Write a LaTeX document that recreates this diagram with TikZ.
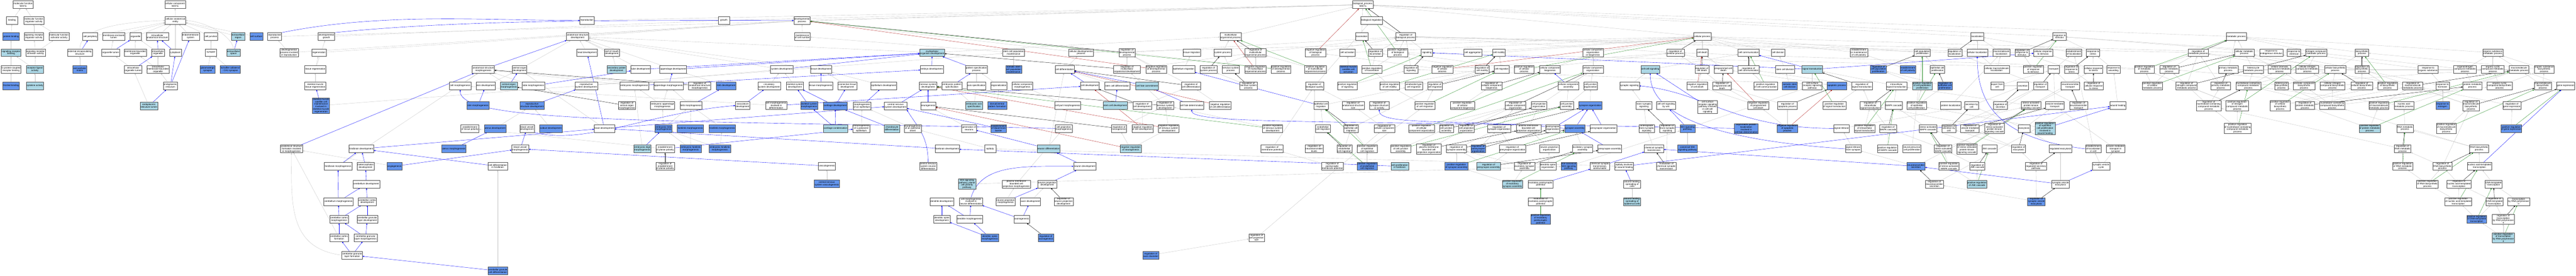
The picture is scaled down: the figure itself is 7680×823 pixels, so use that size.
\documentclass[tikz,border=0pt]{standalone}
\usepackage{fontspec}
\newfontfamily\termfont{Liberation Sans}
\usetikzlibrary{arrows.meta,shadows,backgrounds}
\definecolor{hitblue}{RGB}{100,149,237}
\definecolor{nearblue}{RGB}{173,216,230}
\definecolor{edgegray}{RGB}{196,196,196}
\definecolor{negred}{RGB}{178,34,34}
\definecolor{posgreen}{RGB}{34,139,34}
\begin{document}
\begin{tikzpicture}[x=1pt,y=-1pt,
  term/.style={draw=black!70,line width=0.7pt,fill=white,align=center,font=\termfont\fontsize{7}{7.3}\selectfont,inner xsep=1.5pt,inner ysep=1pt,minimum height=23pt,minimum width=34pt,drop shadow={shadow xshift=0.9pt,shadow yshift=-0.9pt,opacity=1,fill=black!28}},
  hit/.style={term,fill=hitblue},
  near/.style={term,fill=nearblue},
  gl/.style={draw=edgegray,line width=0.6pt,-{Triangle[length=4.5pt,width=3.8pt]}},
  bl/.style={gl,draw=blue},
  kl/.style={gl,draw=black},
  rl/.style={gl,draw=negred},
  gr/.style={gl,draw=posgreen}]
\useasboundingbox (0,0) rectangle (7680,823);

\node[term] (mfWnt) at (69,14) {molecular function\\Wnt7a};
\node[term] (binding) at (36,61) {binding};
\node[term] (mfreg) at (101,61) {molecular function\\regulator activity};
\node[hit] (protbind) at (33,109) {protein binding};
\node[term] (sigrecreg) at (101,109) {signaling receptor\\regulator activity};
\node[term] (mfact) at (176,109) {molecular function\\activator activity};
\node[near] (sigrecbind) at (33,157) {signaling receptor\\binding};
\node[term] (sigrecact) at (106,157) {signaling receptor\\activator activity};
\node[term] (gpcrbind) at (33,207) {G protein-coupled\\receptor binding};
\node[near] (recligand) at (104,207) {receptor ligand\\activity};
\node[hit] (frizzled) at (33,256) {frizzled binding};
\node[near] (cytokine) at (104,256) {cytokine activity};

\node[term] (ccWnt) at (522,14) {cellular component\\Wnt7a};
\node[term] (cae) at (523,61) {cellular anatomical\\entity};
\node[term] (cellper) at (269,109) {cell periphery};
\node[term] (membencl) at (339,109) {membrane-enclosed\\lumen};
\node[term] (organelle) at (404,109) {organelle};
\node[term] (iasstruct) at (469,109) {intracellular\\anatomical structure};
\node[term] (endomem) at (568,109) {endomembrane\\system};
\node[term] (celljunc) at (629,109) {cell junction};
\node[near] (extreg) at (710,109) {extracellular\\region};
\node[hit] (cellsurf) at (764,109) {cell surface};
\node[term] (extenc) at (238,157) {external encapsulating\\structure};
\node[term] (orglumen) at (330,157) {organelle lumen};
\node[term] (membbound) at (403,157) {membrane-bounded\\organelle};
\node[term] (intorg) at (471,157) {intracellular\\organelle};
\node[term] (cytoplasm) at (523,157) {cytoplasm};
\node[term] (synapse) at (629,157) {synapse};
\node[near] (extspace) at (696,157) {extracellular\\space};
\node[hit] (extmatrix) at (238,207) {extracellular\\matrix};
\node[term] (intorglumen) at (397,207) {intracellular\\organelle lumen};
\node[term] (intmembbound) at (471,207) {intracellular\\membrane-bounded\\organelle};
\node[hit] (glutsyn) at (619,207) {glutamatergic\\synapse};
\node[hit] (schaffer) at (686,207) {Schaffer collateral\\- CA1 synapse};
\node[term] (er) at (508,256) {endoplasmic\\reticulum};
\node[near] (erlumen) at (444,316) {endoplasmic\\reticulum lumen};

\node[term] (reproc) at (819,109) {reproductive\\process};
\node[term] (devgrowth) at (973,109) {developmental\\growth};
\node[term] (devprocrep) at (862,157) {developmental\\process involved\\in reproduction};
\node[term] (regeneration) at (951,157) {regeneration};
\node[term] (tissregen) at (940,207) {tissue regeneration};
\node[term] (skmtissregen) at (940,256) {skeletal muscle\\tissue regeneration};
\node[hit] (satellite) at (957,315) {skeletal muscle\\satellite cell\\maintenance\\involved in\\skeletal muscle\\regeneration};
\node[term] (asfmorph) at (869,444) {anatomical structure\\formation involved\\in morphogenesis};
\node[term] (hindbraindev) at (1077,444) {hindbrain development};
\node[term] (hindmorph) at (1008,496) {hindbrain morphogenesis};
\node[term] (metenceph) at (1090,496) {metencephalon\\development};
\node[hit] (angiogenesis) at (1176,496) {angiogenesis};
\node[term] (cerebdev) at (1092,549) {cerebellum development};
\node[term] (cerebmorph) at (1009,601) {cerebellum morphogenesis};
\node[term] (cerebcortdev) at (1095,601) {cerebellar cortex\\development};
\node[term] (cerebcortmorph) at (1011,654) {cerebellar cortex\\morphogenesis};
\node[term] (cgldev) at (1095,654) {cerebellar granular\\layer development};
\node[term] (cerebcortform) at (1011,709) {cerebellar cortex\\formation};
\node[term] (cglmorph) at (1090,709) {cerebellar granular\\layer morphogenesis};
\node[term] (cglform) at (1050,761) {cerebellar granular\\layer formation};

\node[term] (reproduction) at (1750,61) {reproduction};
\node[term] (growth) at (2158,61) {growth};
\node[term] (devproc) at (2391,61) {developmental\\process};
\node[term] (asdev) at (1722,109) {anatomical structure\\development};
\node[term] (maintcellnum) at (2392,109) {maintenance\\of cell number};
\node[term] (headdev) at (1750,157) {head development};
\node[term] (roofmouth) at (1824,157) {roof of mouth\\development};
\node[term] (asmorph) at (1441,207) {anatomical structure\\morphogenesis};
\node[term] (aodev) at (1549,207) {animal organ\\development};
\node[near] (secpalate) at (1838,207) {secondary palate\\development};
\node[term] (tubedev) at (1910,207) {tube development};
\node[term] (appdev) at (2007,207) {appendage development};
\node[term] (sysdev) at (2331,207) {system development};
\node[term] (tissdev) at (2448,207) {tissue development};
\node[term] (cellmorph) at (1372,256) {cell morphogenesis};
\node[term] (skindev) at (1448,256) {skin development};
\node[near] (aomorph) at (1517,256) {animal organ\\morphogenesis};
\node[term] (tubemorph) at (1590,256) {tube morphogenesis};
\node[term] (reprsysdev) at (1748,256) {reproductive\\system development};
\node[term] (embmorph) at (1891,256) {embryonic morphogenesis};
\node[term] (appmorph) at (1993,256) {appendage morphogenesis};
\node[term] (regasmorph) at (2086,256) {regulation of\\anatomical structure\\morphogenesis};
\node[hit] (limbdev) at (2165,256) {limb development};
\node[term] (circsysdev) at (2293,256) {circulatory\\system development};
\node[term] (skelsysdev) at (2370,256) {skeletal system\\development};
\node[term] (tissmorph) at (2447,256) {tissue morphogenesis};
\node[term] (conntissdev) at (2526,256) {connective tissue\\development};
\node[hit] (skinmorph) at (1425,315) {skin morphogenesis};
\node[hit] (reprstructdev) at (1586,315) {reproductive\\structure development};
\node[term] (regaomorph) at (1869,315) {regulation of\\animal organ\\morphogenesis};
\node[term] (embappmorph) at (1975,315) {embryonic appendage\\morphogenesis};
\node[term] (limbmorph) at (2060,315) {limb morphogenesis};
\node[term] (vascdev) at (2214,315) {vasculature\\development};
\node[term] (cellmorphdiff) at (2314,315) {cell morphogenesis\\involved in\\differentiation};
\node[hit] (skelsysmorph) at (2412,315) {skeletal system\\morphogenesis};
\node[hit] (cartdev) at (2490,316) {cartilage development};
\node[term] (estissuepol) at (1401,383) {establishment\\of tissue polarity};
\node[hit] (uterusdev) at (1476,383) {uterus development};
\node[term] (bvdev) at (1571,383) {blood vessel\\development};
\node[hit] (oviductdev) at (1642,383) {oviduct development};
\node[term] (braindev) at (1802,383) {brain development};
\node[hit] (emblimbmorph) at (1978,383) {embryonic limb\\morphogenesis};
\node[hit] (forelimbmorph) at (2058,383) {forelimb morphogenesis};
\node[hit] (hindlimbmorph) at (2153,383) {hindlimb morphogenesis};
\node[near] (cartcond) at (2491,383) {cartilage condensation};
\node[hit] (uterusmorph) at (1353,444) {uterus morphogenesis};
\node[term] (bvmorph) at (1551,444) {blood vessel\\morphogenesis};
\node[near] (embdigitmorph) at (1915,444) {embryonic digit\\morphogenesis};
\node[term] (estplanarpol) at (1983,444) {establishment\\of planar polarity};
\node[hit] (embforelimb) at (2059,444) {embryonic forelimb\\morphogenesis};
\node[hit] (embhindlimb) at (2146,444) {embryonic hindlimb\\morphogenesis};
\node[term] (celldiffhind) at (1484,496) {cell differentiation\\in hindbrain};
\node[term] (regestplanar) at (1983,496) {regulation of\\establishment\\of planar polarity};
\node[term] (vasculogenesis) at (2465,495) {vasculogenesis};
\node[hit] (cnsvasc) at (2465,548) {central nervous\\system vasculogenesis};
\node[hit] (cgcelldiff) at (1484,808) {cerebellar granule\\cell differentiation};

\node[near] (mcodev) at (2779,157) {multicellular\\organism development};
\node[term] (stemcellpopmaint) at (3022,157) {stem cell population\\maintenance};
\node[term] (celldevproc) at (3223,157) {cellular developmental\\process};
\node[term] (regdevproc) at (3360,157) {regulation of\\developmental\\process};
\node[term] (tissmig) at (3553,157) {tissue migration};
\node[term] (sysproc) at (3645,157) {system process};
\node[term] (regmcop) at (3743,157) {regulation of\\multicellular\\organismal process};
\node[term] (mcop) at (3669,109) {multicellular\\organismal process};
\node[term] (negregbp) at (3922,157) {negative regulation\\of biological\\process};
\node[term] (cellactiv) at (4017,157) {cell activation};
\node[term] (embryodev) at (2778,207) {embryo development};
\node[term] (patspec) at (2911,207) {pattern specification\\process};
\node[hit] (somstem) at (3022,207) {somatic stem\\cell population\\maintenance};
\node[term] (celldiff) at (3174,207) {cell differentiation};
\node[term] (regmcodev) at (3360,207) {regulation of\\multicellular\\organismal development};
\node[term] (negregdevproc) at (3447,207) {negative regulation\\of developmental\\process};
\node[term] (epimig) at (3529,207) {epithelium migration};
\node[term] (regsysproc) at (3603,207) {regulation of\\system process};
\node[term] (nsproc) at (3669,207) {nervous system\\process};
\node[term] (negregmcop) at (3743,207) {negative regulation\\of multicellular\\organismal process};
\node[term] (posregdevproc) at (3819,207) {positive regulation\\of developmental\\process};
\node[term] (posregmcop) at (3922,207) {positive regulation\\of multicellular\\organismal process};
\node[hit] (skmsatact) at (4020,207) {skeletal muscle\\satellite cell\\activation};
\node[term] (epidev) at (2635,256) {epithelium development};
\node[term] (nsdev) at (2767,256) {nervous system\\development};
\node[term] (embpatspec) at (2838,256) {embryonic pattern\\specification};
\node[term] (axisspec) at (2911,256) {axis specification};
\node[term] (regionaliz) at (2978,256) {regionalization};
\node[term] (ccmorph) at (3048,256) {cellular component\\morphogenesis};
\node[term] (celldev) at (3249,256) {cell development};
\node[term] (stemcelldiff) at (3331,256) {stem cell differentiation};
\node[near] (cellfatecommit) at (3420,256) {cell fate commitment};
\node[term] (regcelldiff) at (3551,256) {regulation of\\cell differentiation};
\node[term] (regnsproc) at (3722,256) {regulation of\\nervous system\\process};
\node[term] (regbioqual) at (3919,256) {regulation of\\biological quality};
\node[term] (posregsig) at (4017,256) {positive regulation\\of signaling};
\node[term] (morphepi) at (2570,316) {morphogenesis\\of an epithelium};
\node[term] (cnsdev) at (2670,316) {central nervous\\system development};
\node[term] (neurogenesis) at (2767,316) {neurogenesis};
\node[near] (embaxisspec) at (2904,315) {embryonic axis\\specification};
\node[hit] (dvpattern) at (2973,315) {dorsal/ventral\\pattern formation};
\node[term] (cellpartmorph) at (3183,315) {cell part morphogenesis};
\node[near] (stemcelldev) at (3325,315) {stem cell development};
\node[term] (regcelldev) at (3405,315) {regulation of\\cell development};
\node[term] (regnsdev) at (3474,315) {regulation of\\nervous system\\development};
\node[term] (cellfatedet) at (3553,315) {cell fate determination};
\node[term] (negregcelldiff) at (3638,315) {negative regulation\\of cell differentiation};
\node[term] (epicellmig) at (3938,315) {epithelial cell\\migration};
\node[term] (regasize) at (4034,315) {regulation of\\anatomical structure\\size};
\node[term] (regsynstruct) at (4112,315) {regulation of\\synapse structure\\or activity};
\node[term] (morphpolepi) at (2568,383) {morphogenesis\\of a polarized\\epithelium};
\node[near] (chondrodiff) at (2659,383) {chondrocyte\\differentiation};
\node[term] (morphepisheet) at (2721,383) {morphogenesis\\of an epithelial\\sheet};
\node[term] (genneurons) at (2889,383) {generation of\\neurons};
\node[hit] (estbbb) at (2977,383) {establishment\\of blood-brain\\barrier};
\node[term] (cellprojmorph) at (3171,383) {cell projection\\morphogenesis};
\node[term] (regneurogen) at (3336,383) {regulation of\\neurogenesis};
\node[term] (negregcelldev) at (3406,383) {negative regulation\\of cell development};
\node[term] (negregnsdev) at (3484,383) {negative regulation\\of nervous system\\development};
\node[term] (posregnsdev) at (3794,383) {positive regulation\\of nervous system\\development};
\node[term] (endocellmig) at (3944,383) {endothelial\\cell migration};
\node[term] (regepicellmig) at (4028,383) {regulation of\\epithelial cell\\migration};
\node[term] (regccsize) at (4127,383) {regulation of\\cellular component\\size};
\node[term] (forebraindev) at (2824,444) {forebrain development};
\node[term] (epiboly) at (2952,444) {epiboly};
\node[near] (neurondiff) at (3126,444) {neuron differentiation};
\node[near] (negregneurogen) at (3371,444) {negative regulation\\of neurogenesis};
\node[term] (regmempot) at (3792,444) {regulation of\\membrane potential};
\node[term] (regntlevels) at (3918,444) {regulation of\\neurotransmitter\\levels};
\node[term] (regendocellmig) at (4008,444) {regulation of\\endothelial\\cell migration};
\node[term] (posregepicellmig) at (4076,444) {positive regulation\\of epithelial\\cell migration};
\node[term] (cnsneurondiff) at (2767,496) {central nervous\\system neuron\\differentiation};
\node[term] (neurondev) at (3234,496) {neuron development};
\node[term] (regpsmp) at (3972,496) {regulation of\\postsynaptic\\membrane potential};
\node[hit] (posregendocellmig) at (4076,496) {positive regulation\\of endothelial\\cell migration};
\node[near] (cellprolifforebrain) at (4173,496) {cell proliferation\\in forebrain};
\node[near] (wntpcp) at (2883,549) {Wnt signaling\\pathway, planar\\cell polarity\\pathway};
\node[term] (pmbcellprojmorph) at (3030,549) {plasma membrane\\bounded cell\\projection morphogenesis};
\node[term] (neuronprojdev) at (3122,549) {neuron projection\\development};
\node[term] (dendritedev) at (2808,601) {dendrite development};
\node[term] (cellmorphneurondiff) at (2895,601) {cell morphogenesis\\involved in\\neuron differentiation};
\node[term] (neuronprojmorph) at (2998,601) {neuron projection\\morphogenesis};
\node[term] (axondev) at (3072,601) {axon development};
\node[term] (regneuronprojdev) at (3171,601) {regulation of\\neuron projection\\development};
\node[term] (dendspinedev) at (2808,654) {dendritic spine\\development};
\node[term] (dendmorph) at (2891,654) {dendrite morphogenesis};
\node[term] (axonogenesis) at (3046,654) {axonogenesis};
\node[hit] (dendspinemorph) at (2951,709) {dendritic spine\\morphogenesis};
\node[hit] (regaxonogen) at (3118,709) {regulation of\\axonogenesis};
\node[term] (regcellprojsize) at (3746,709) {regulation of\\cell projection\\size};
\node[hit] (regaxondiam) at (3431,761) {regulation of\\axon diameter};

\node[term] (bpWnt) at (4063,14) {biological\_process\\Wnt7a};
\node[term] (bioreg) at (4089,61) {biological regulation};
\node[term] (locomotion) at (4060,109) {locomotion};
\node[term] (regbp) at (4191,109) {regulation of\\biological process};
\node[term] (cellproc) at (5075,109) {cellular process};
\node[term] (reglocomotion) at (4101,157) {regulation of\\locomotion};
\node[term] (posregbp) at (4167,157) {positive regulation\\of biological\\process};
\node[term] (signaling) at (4254,157) {signaling};
\node[term] (cellagg) at (4391,157) {cell aggregation};
\node[term] (cellmotility) at (4469,157) {cell motility};
\node[term] (ccorgbio) at (4749,157) {cellular component\\organization\\or biogenesis};
\node[term] (regcellproc) at (4995,157) {regulation of\\cellular process};
\node[term] (celldeath) at (5075,157) {cell death};
\node[term] (cellcomm) at (5213,157) {cell communication};
\node[term] (celldivision) at (5301,157) {cell division};
\node[term] (posreglocomotion) at (4090,207) {positive regulation\\of locomotion};
\node[term] (regsignaling) at (4207,207) {regulation of\\signaling};
\node[term] (negregcellproc) at (4300,207) {negative regulation\\of cellular\\process};
\node[term] (regcellmotility) at (4419,207) {regulation of\\cell motility};
\node[term] (cellmig) at (4477,207) {cell migration};
\node[term] (posregcellproc) at (4544,207) {positive regulation\\of cellular\\process};
\node[term] (ccbiogenesis) at (4621,207) {cellular component\\biogenesis};
\node[term] (ccorg) at (4749,207) {cellular component\\organization};
\node[near] (cellcellsig) at (4920,207) {cell-cell signaling};
\node[term] (regcelldeath) at (5074,207) {regulation of\\cell death};
\node[term] (pcd) at (5138,207) {programmed cell\\death};
\node[term] (regcellcomm) at (5213,207) {regulation of\\cell communication};
\node[term] (stemcelldiv) at (5322,207) {stem cell division};
\node[term] (posregcellmotility) at (4143,256) {positive regulation\\of cell motility};
\node[term] (amoeboid) at (4215,256) {ameboidal-type\\cell migration};
\node[term] (regcellmig) at (4278,256) {regulation of\\cell migration};
\node[term] (regccbiogen) at (4447,256) {regulation of\\cellular component\\biogenesis};
\node[term] (ccassembly) at (4676,256) {cellular component\\assembly};
\node[term] (celljuncorg) at (4742,256) {cell junction\\organization};
\node[term] (synsignaling) at (4858,256) {synaptic signaling};
\node[term] (negregcelldeath) at (5060,256) {negative regulation\\of cell death};
\node[term] (regpcd) at (5134,256) {regulation of\\programmed cell\\death};
\node[term] (posregcellcomm) at (5264,256) {positive regulation\\of cell communication};
\node[hit] (somstemdiv) at (5336,256) {somatic stem\\cell division};
\node[term] (posregcellmig) at (4248,315) {positive regulation\\of cell migration};
\node[term] (posregccbiogen) at (4360,315) {positive regulation\\of cellular\\component biogenesis};
\node[term] (regccorg) at (4518,315) {regulation of\\cellular component\\organization};
\node[term] (cellprojorg) at (4588,315) {cell projection\\organization};
\node[term] (celljuncassembly) at (4671,315) {cell junction\\assembly};
\node[hit] (synorg) at (4741,315) {synapse organization};
\node[term] (transsynsig) at (4901,315) {trans-synaptic\\signaling};
\node[term] (ccsigwnt) at (4967,315) {cell-cell signaling\\by wnt};
\node[term] (csrspcc) at (5091,319) {cell surface\\receptor signaling\\pathway involved\\in cell-cell\\signaling};
\node[term] (negregpcd) at (5242,315) {negative regulation\\of programmed\\cell death};
\node[term] (posregccorg) at (4238,383) {positive regulation\\of cellular\\component organization};
\node[term] (regcelljuncassembly) at (4312,383) {regulation of\\cell junction\\assembly};
\node[term] (regcellprojorg) at (4372,383) {regulation of\\cell projection\\organization};
\node[term] (regsynorg) at (4469,383) {regulation of\\synapse organization};
\node[term] (pmbcellprojorg) at (4557,383) {plasma membrane\\bounded cell\\projection organization};
\node[term] (postsynorg) at (4629,383) {postsynapse\\organization};
\node[hit] (synassembly) at (4695,383) {synapse assembly};
\node[term] (presynorg) at (4780,383) {presynapse organization};
\node[term] (anterograde) at (4909,383) {anterograde\\trans-synaptic\\signaling};
\node[term] (regtranssyn) at (4971,383) {regulation of\\trans-synaptic\\signaling};
\node[hit] (wntsig) at (5031,383) {Wnt signaling\\pathway};
\node[hit] (asymprot) at (5206,383) {asymmetric protein\\localization\\involved in\\cell fate determination};
\node[term] (posregcelljuncassembly) at (4176,444) {positive regulation\\of cell junction\\assembly};
\node[term] (regpmbcellprojorg) at (4260,444) {regulation of\\plasma membrane\\bounded cell\\projection organization};
\node[term] (regsynassembly) at (4342,444) {regulation of\\synapse assembly};
\node[hit] (regpostsynorg) at (4407,444) {regulation of\\postsynapse\\organization};
\node[term] (regpresynorg) at (4509,444) {regulation of\\presynapse organization};
\node[term] (neuronprojorg) at (4619,444) {neuron projection\\organization};
\node[term] (excsynassembly) at (4718,444) {excitatory synapse\\assembly};
\node[term] (presynassembly) at (4799,444) {presynapse assembly};
\node[term] (chemsyntrans) at (4931,444) {chemical synaptic\\transmission};
\node[hit] (canonwnt) at (5031,444) {canonical Wnt\\signaling pathway};
\node[hit] (posregsynassembly) at (4342,496) {positive regulation\\of synapse assembly};
\node[near] (regpresynassembly) at (4438,496) {regulation of\\presynapse assembly};
\node[term] (regexcsynassembly) at (4545,496) {regulation of\\excitatory synapse\\assembly};
\node[term] (dendspineorg) at (4615,496) {dendritic spine\\organization};
\node[hit] (noncanonwnt) at (4677,496) {non-canonical\\Wnt signaling\\pathway};
\node[term] (chemsyntranspost) at (4770,496) {chemical synaptic\\transmission,\\postsynaptic};
\node[term] (epibolywound) at (4842,496) {epiboly involved\\in wound healing};
\node[term] (modchemsyn) at (4968,496) {modulation of\\chemical synaptic\\transmission};
\node[near] (posregexcsynassembly) at (4509,549) {positive regulation\\of excitatory\\synapse assembly};
\node[term] (excpsp) at (4593,549) {excitatory postsynaptic\\potential};
\node[term] (woundspreadcells) at (4866,549) {wound healing,\\spreading of\\cells};
\node[term] (modexcpsp) at (4593,601) {modulation of\\excitatory postsynaptic\\potential};
\node[near] (woundspreadepi) at (4866,601) {wound healing,\\spreading of\\epidermal cells};
\node[hit] (posregexcpsp) at (4593,654) {positive regulation\\of excitatory\\postsynaptic\\potential};

\node[term] (localization) at (5895,109) {localization};
\node[term] (respstim) at (6140,109) {response to\\stimulus};
\node[term] (estmaintpol) at (5542,157) {establishment\\or maintenance\\of cell polarity};
\node[term] (cellpopprolif) at (5731,157) {cell population\\proliferation};
\node[term] (reglocaliz) at (5828,157) {regulation of\\localization};
\node[term] (cellularlocaliz) at (5895,157) {cellular localization};
\node[term] (macromollocaliz) at (5967,157) {macromolecule\\localization};
\node[term] (regrespstim) at (6028,157) {regulation of\\response to\\stimulus};
\node[term] (cellresstim) at (6091,157) {cellular response\\to stimulus};
\node[term] (estlocaliz) at (6183,157) {establishment\\of localization};
\node[term] (respstress) at (6240,157) {response to\\stress};
\node[near] (sigtrans) at (5403,207) {signal transduction};
\node[hit] (regcellpopprolif) at (5600,207) {regulation of\\cell population\\proliferation};
\node[hit] (estcellpol) at (5688,207) {establishment\\of cell polarity};
\node[term] (epicellprolif) at (5776,207) {epithelial cell\\proliferation};
\node[term] (cellmacromollocaliz) at (5953,207) {cellular macromolecule\\localization};
\node[term] (posregrespstim) at (6062,207) {positive regulation\\of response\\to stimulus};
\node[term] (transport) at (6123,207) {transport};
\node[term] (regrespstress) at (6176,207) {regulation of\\response to\\stress};
\node[term] (cellrespstress) at (6241,207) {cellular response\\to stress};
\node[term] (respwounding) at (6301,207) {response to\\wounding};
\node[term] (csrsp) at (5403,256) {cell surface\\receptor signaling\\pathway};
\node[hit] (apoptotic) at (5476,256) {apoptotic process};
\node[term] (regsigtrans) at (5551,256) {regulation of\\signal transduction};
\node[term] (intrasigtrans) at (5654,256) {intracellular\\signal transduction};
\node[near] (posregcellpopprolif) at (5731,256) {positive regulation\\of cell population\\proliferation};
\node[hit] (regepicellprolif) at (5798,256) {regulation of\\epithelial cell\\proliferation};
\node[term] (exportcell) at (5954,256) {export from\\cell};
\node[term] (secretion) at (6031,256) {secretion};
\node[term] (regtransport) at (6083,256) {regulation of\\transport};
\node[term] (nttransport) at (6172,256) {neurotransmitter\\transport};
\node[term] (regcellrespstress) at (6242,256) {regulation of\\cellular response\\to stress};
\node[term] (regapoptotic) at (5329,315) {regulation of\\apoptotic process};
\node[term] (posregsigtrans) at (5469,315) {positive regulation\\of signal transduction};
\node[term] (regintrasigtrans) at (5576,315) {regulation of\\intracellular\\signal transduction};
\node[term] (mapk) at (5646,315) {MAPK cascade};
\node[term] (posregepicellprolif) at (5714,315) {positive regulation\\of epithelial\\cell proliferation};
\node[term] (protlocaliz) at (5816,315) {protein localization};
\node[term] (secbycell) at (5878,315) {secretion by\\cell};
\node[term] (regsecretion) at (5964,315) {regulation of\\secretion};
\node[term] (sapk) at (6055,315) {stress-activated\\protein kinase\\signaling cascade};
\node[term] (vesmedtrans) at (6126,315) {vesicle-mediated\\transport};
\node[term] (regnttransport) at (6197,315) {regulation of\\neurotransmitter\\transport};
\node[term] (woundhealing) at (6314,315) {wound healing};
\node[hit] (negregapoptotic) at (5329,383) {negative regulation\\of apoptotic\\process};
\node[term] (sigrelease) at (5490,383) {signal release};
\node[term] (posregintrasig) at (5559,383) {positive regulation\\of intracellular\\signal transduction};
\node[term] (regmapk) at (5629,383) {regulation of\\MAPK cascade};
\node[term] (samapk) at (5748,383) {stress-activated\\MAPK cascade};
\node[term] (regsecbycell) at (5810,383) {regulation of\\secretion by\\cell};
\node[term] (regvesmedtrans) at (5873,383) {regulation of\\vesicle-mediated\\transport};
\node[term] (regsapk) at (5946,383) {regulation of\\stress-activated\\protein kinase\\signaling cascade};
\node[term] (exocytosis) at (6034,383) {exocytosis};
\node[near] (posregepiwound) at (6097,383) {positive regulation\\of epithelial\\cell proliferation\\involved in\\wound healing};
\node[term] (sigrelsyn) at (5525,444) {signal release\\from synapse};
\node[term] (posregmapk) at (5627,444) {positive regulation\\of MAPK cascade};
\node[term] (neuralprecprolif) at (5700,444) {neural precursor\\cell proliferation};
\node[term] (regsamapk) at (5793,444) {regulation of\\stress-activated\\MAPK cascade};
\node[term] (posregsapk) at (5864,444) {positive regulation\\of stress-activated\\protein kinase\\signaling cascade};
\node[term] (jnk) at (5931,444) {JNK cascade};
\node[term] (regexocytosis) at (6018,444) {regulation of\\exocytosis};
\node[term] (regulatedexo) at (6143,444) {regulated exocytosis};
\node[term] (estlocalizcell) at (6241,444) {establishment\\of localization\\in cell};
\node[term] (vesmedtranssyn) at (6307,444) {vesicle-mediated\\transport in\\synapse};
\node[hit] (ntsecretion) at (5712,496) {neurotransmitter\\secretion};
\node[term] (posregsamapk) at (5810,496) {positive regulation\\of stress-activated\\MAPK cascade};
\node[term] (regjnk) at (5895,496) {regulation of\\JNK cascade};
\node[term] (regregsecpath) at (6070,496) {regulation of\\regulated secretory\\pathway};
\node[term] (synvescycle) at (6264,496) {synaptic vesicle\\cycle};
\node[term] (regntsecretion) at (5767,549) {regulation of\\neurotransmitter\\secretion};
\node[near] (posregjnk) at (5894,549) {positive regulation\\of JNK cascade};
\node[term] (synvesexo) at (6143,549) {synaptic vesicle\\exocytosis};
\node[hit] (regsynvesexo) at (6071,601) {regulation of\\synaptic vesicle\\exocytosis};

\node[term] (metabproc) at (6667,109) {metabolic process};
\node[term] (regmetab) at (6554,157) {regulation of\\metabolic process};
\node[term] (cellmetab) at (6691,157) {cellular metabolic\\process};
\node[term] (respendo) at (6771,157) {response to\\endogenous stimulus};
\node[term] (respchem) at (6839,157) {response to\\chemical};
\node[term] (ncmetab) at (6905,157) {nitrogen compound\\metabolic process};
\node[term] (biosynth) at (7042,157) {biosynthetic\\process};
\node[term] (orgsubmetab) at (7432,157) {organic substance\\metabolic process};
\node[term] (posregmetab) at (6393,207) {positive regulation\\of metabolic\\process};
\node[term] (regcellmetab) at (6467,207) {regulation of\\cellular metabolic\\process};
\node[term] (primmetab) at (6643,207) {primary metabolic\\process};
\node[term] (hetcycmetab) at (6718,207) {heterocycle\\metabolic process};
\node[term] (cellaromatic) at (6796,207) {cellular aromatic\\compound metabolic\\process};
\node[term] (cellncmetab) at (6879,207) {cellular nitrogen\\compound metabolic\\process};
\node[term] (cellbiosynth) at (6962,207) {cellular biosynthetic\\process};
\node[term] (regbiosynth) at (7042,207) {regulation of\\biosynthetic\\process};
\node[term] (resporgsub) at (7239,207) {response to\\organic substance};
\node[term] (organonitrogen) at (7349,207) {organonitrogen\\compound metabolic\\process};
\node[term] (orgcyclic) at (7432,207) {organic cyclic\\compound metabolic\\process};
\node[term] (macromolmetab) at (7510,207) {macromolecule\\metabolic process};
\node[term] (orgsubbiosynth) at (7585,207) {organic substance\\biosynthetic\\process};
\node[term] (posregcellmetab) at (6417,256) {positive regulation\\of cellular\\metabolic process};
\node[term] (regncmetab) at (6519,256) {regulation of\\nitrogen compound\\metabolic process};
\node[term] (regprimmetab) at (6621,256) {regulation of\\primary metabolic\\process};
\node[term] (nbcmetab) at (6703,256) {nucleobase-containing\\compound metabolic\\process};
\node[term] (hetcycbiosynth) at (6802,256) {heterocycle\\biosynthetic\\process};
\node[term] (aromaticbiosynth) at (6869,256) {aromatic compound\\biosynthetic\\process};
\node[term] (cellncbiosynth) at (6954,256) {cellular nitrogen\\compound biosynthetic\\process};
\node[term] (regcellbiosynth) at (7041,256) {regulation of\\cellular biosynthetic\\process};
\node[term] (posregbiosynth) at (7118,256) {positive regulation\\of biosynthetic\\process};
\node[term] (regmacromolmetab) at (7193,256) {regulation of\\macromolecule\\metabolic process};
\node[term] (resphormone) at (7282,256) {response to\\hormone};
\node[term] (protmetab) at (7371,256) {protein metabolic\\process};
\node[term] (orgcycbiosynth) at (7452,256) {organic cyclic\\compound biosynthetic\\process};
\node[term] (macromolbiosynth) at (7581,256) {macromolecule\\biosynthetic\\process};
\node[term] (geneexpr) at (7649,256) {gene expression};
\node[term] (regnbcmetab) at (6585,315) {regulation of\\nucleobase-containing\\compound metabolic\\process};
\node[term] (posregncmetab) at (6670,315) {positive regulation\\of nitrogen\\compound metabolic\\process};
\node[term] (posregcellbiosynth) at (6798,315) {positive regulation\\of cellular\\biosynthetic\\process};
\node[term] (regprotmetab) at (6872,315) {regulation of\\protein metabolic\\process};
\node[term] (nbcbiosynth) at (6953,315) {nucleobase-containing\\compound biosynthetic\\process};
\node[term] (posregmacromolmetab) at (7092,315) {positive regulation\\of macromolecule\\metabolic process};
\node[term] (nucacidmetab) at (7167,315) {nucleic acid\\metabolic process};
\node[hit] (respestrogen) at (7282,315) {response to\\estrogen};
\node[term] (regmacromolbiosynth) at (7367,315) {regulation of\\macromolecule\\biosynthetic\\process};
\node[term] (reggeneexpr) at (7489,315) {regulation of\\gene expression};
\node[term] (posregnbcmetab) at (6671,383) {positive regulation\\of nucleobase-containing\\compound metabolic\\process};
\node[near] (posregprotmetab) at (7065,383) {positive regulation\\of protein metabolic\\process};
\node[term] (rnametab) at (7170,383) {RNA metabolic\\process};
\node[term] (posregmacromolbiosynth) at (7293,383) {positive regulation\\of macromolecule\\biosynthetic\\process};
\node[hit] (posreggeneexpr) at (7487,383) {positive regulation\\of gene expression};
\node[term] (regrnametab) at (7163,444) {regulation of\\RNA metabolic\\process};
\node[term] (rnabiosynth) at (7391,444) {RNA biosynthetic\\process};
\node[term] (posregrnametab) at (7163,496) {positive regulation\\of RNA metabolic\\process};
\node[term] (regrnabiosynth) at (7282,496) {regulation of\\RNA biosynthetic\\process};
\node[term] (nucacidtrans) at (7392,496) {nucleic acid-templated\\transcription};
\node[term] (posregrnabiosynth) at (7237,549) {positive regulation\\of RNA biosynthetic\\process};
\node[term] (regnucacidtrans) at (7331,549) {regulation of\\nucleic acid-templated\\transcription};
\node[term] (dnatrans) at (7434,549) {DNA-templated\\transcription};
\node[term] (posregnucacidtrans) at (7329,601) {positive regulation\\of nucleic acid-templated\\transcription};
\node[term] (regdnatrans) at (7437,601) {regulation of\\DNA-templated\\transcription};
\node[term] (transpol2) at (7509,601) {transcription\\by RNA polymerase\\II};
\node[hit] (posregdnatrans) at (7384,654) {positive regulation\\of DNA-templated\\transcription};
\node[term] (regtranspol2) at (7463,654) {regulation of\\transcription\\by RNA polymerase\\II};
\node[near] (posregtranspol2) at (7463,709) {positive regulation\\of transcription\\by RNA polymerase\\II};

\begin{scope}[on background layer]
\draw[gl] (binding) -- (mfWnt);
\draw[gl] (mfreg) -- (mfWnt);
\draw[gl] (protbind) -- (binding);
\draw[gl] (sigrecreg) -- (mfreg);
\draw[gl] (mfact) -- (mfreg);
\draw[gl] (sigrecbind) -- (protbind);
\draw[gl] (sigrecact) -- (sigrecreg);
\draw[gl] (sigrecact) -- (mfact);
\draw[gl] (gpcrbind) -- (sigrecbind);
\draw[gl] (recligand) -- (sigrecbind);
\draw[gl] (recligand) -- (sigrecact);
\draw[gl] (frizzled) -- (gpcrbind);
\draw[gl] (cytokine) -- (recligand);
\draw[gl] (cae) -- (ccWnt);
\draw[gl] (cellper) -- (cae);
\draw[gl] (membencl) -- (cae);
\draw[gl] (organelle) -- (cae);
\draw[gl] (iasstruct) -- (cae);
\draw[gl] (endomem) -- (cae);
\draw[gl] (celljunc) -- (cae);
\draw[gl] (extreg) -- (cae);
\draw[gl] (cellsurf) -- (cae);
\draw[gl] (extenc.north) .. controls +(0,-55) and +(-150,5) .. (cae.west);
\draw[gl] (cytoplasm) -- (cae);
\draw[gl] (extspace.north) .. controls +(-5,-40) and +(60,5) .. (cae.east);
\draw[gl] (membbound) -- (organelle);
\draw[gl] (intorg) -- (organelle);
\draw[gl] (orglumen) -- (membencl);
\draw[gl] (intorglumen) -- (orglumen);
\draw[gl] (intmembbound) -- (membbound);
\draw[gl] (intmembbound) -- (intorg);
\draw[gl] (synapse) -- (celljunc);
\draw[gl] (glutsyn) -- (synapse);
\draw[gl] (schaffer) -- (synapse);
\draw[gl] (extmatrix) -- (extenc);
\draw[gl] (er) -- (intmembbound);
\draw[gl] (erlumen) -- (intorglumen);
\draw[gl] (reproc) -- (bpWnt);
\draw[gl] (reproduction) -- (bpWnt);
\draw[gl] (growth) -- (bpWnt);
\draw[gl] (devproc) -- (bpWnt);
\draw[gl] (mcop) -- (bpWnt);
\draw[gl] (locomotion) -- (bpWnt);
\draw[gl] (bioreg) -- (bpWnt);
\draw[gl] (cellproc) -- (bpWnt);
\draw[gl] (localization) -- (bpWnt);
\draw[gl] (respstim) -- (bpWnt);
\draw[gl] (metabproc) -- (bpWnt);
\draw[gl] (signaling) -- (bpWnt);
\draw[gl] (cellagg) -- (cellproc);
\draw[gl] (cellmotility) -- (cellproc);
\draw[gl] (devprocrep) -- (reproc);
\draw[gl] (devprocrep) -- (devproc);
\draw[gl] (regeneration) -- (devproc);
\draw[gl] (tissregen) -- (regeneration);
\draw[gl] (tissregen) -- (devgrowth);
\draw[gl] (devgrowth) -- (growth);
\draw[gl] (skmtissregen) -- (tissregen);
\draw[gl] (angiogenesis) -- (asfmorph);
\draw[gl] (satellite) -- (stemcellpopmaint);
\draw[gl] (cglform.west) .. controls +(-160,-20) and +(0,150) .. (asfmorph.south);
\draw[gl] (cerebcortform) -- (asfmorph);
\draw[gl] (hindmorph) -- (asmorph);
\draw[gl] (cgcelldiff) -- (celldiffhind);
\draw[gl] (asdev) -- (devproc);
\draw[gl] (maintcellnum) -- (devproc);
\draw[gl] (headdev) -- (asdev);
\draw[gl] (roofmouth) -- (asdev);
\draw[gl] (aodev) -- (asdev);
\draw[gl] (tubedev) -- (asdev);
\draw[gl] (appdev) -- (asdev);
\draw[gl] (sysdev) -- (asdev);
\draw[gl] (tissdev) -- (asdev);
\draw[gl] (mcodev) -- (asdev);
\draw[gl] (secpalate) -- (roofmouth);
\draw[gl] (cellmorph) -- (asmorph);
\draw[gl] (skindev) -- (aodev);
\draw[gl] (aomorph) -- (asmorph);
\draw[gl] (tubemorph) -- (asmorph);
\draw[gl] (embmorph) -- (asmorph);
\draw[gl] (appmorph) -- (asmorph);
\draw[gl] (reprsysdev) -- (sysdev);
\draw[gl] (limbdev) -- (appdev);
\draw[gl] (embappmorph) -- (appmorph);
\draw[gl] (embappmorph) -- (embmorph);
\draw[gl] (limbmorph) -- (appmorph);
\draw[gl] (emblimbmorph) -- (limbmorph);
\draw[gl] (emblimbmorph) -- (embappmorph);
\draw[gl] (forelimbmorph) -- (limbmorph);
\draw[gl] (hindlimbmorph) -- (limbmorph);
\draw[gl] (embforelimb) -- (forelimbmorph);
\draw[gl] (embforelimb) -- (emblimbmorph);
\draw[gl] (embhindlimb) -- (hindlimbmorph);
\draw[gl] (embhindlimb) -- (emblimbmorph);
\draw[gl] (embdigitmorph) -- (embmorph);
\draw[gl] (circsysdev) -- (sysdev);
\draw[gl] (skelsysdev) -- (sysdev);
\draw[gl] (conntissdev) -- (tissdev);
\draw[gl] (epidev) -- (tissdev);
\draw[gl] (cellmorphdiff) -- (cellmorph);
\draw[gl] (uterusdev) -- (reprstructdev);
\draw[gl] (oviductdev) -- (reprstructdev);
\draw[gl] (estplanarpol) -- (estissuepol);
\draw[gl] (cnsvasc) -- (vasculogenesis);
\draw[gl] (braindev) -- (aodev);
\draw[gl] (mcodev) -- (mcop);
\draw[gl] (stemcellpopmaint) -- (maintcellnum);
\draw[gl] (somstem) -- (stemcellpopmaint);
\draw[gl] (celldevproc) -- (devproc);
\draw[gl] (celldevproc) -- (cellproc);
\draw[gl] (celldiff) -- (celldevproc);
\draw[gl] (regmcodev) -- (regdevproc);
\draw[gl] (regmcodev) -- (regmcop);
\draw[gl] (negregdevproc) -- (regdevproc);
\draw[gl] (epimig) -- (tissmig);
\draw[gl] (nsproc) -- (sysproc);
\draw[gl] (regsysproc) -- (regmcop);
\draw[gl] (negregmcop) -- (regmcop);
\draw[gl] (posregdevproc) -- (regdevproc);
\draw[gl] (posregmcop) -- (regmcop);
\draw[gl] (regmcop) -- (regbp);
\draw[gl] (regdevproc) -- (regbp);
\draw[gl] (sysproc) -- (mcop);
\draw[gl] (axisspec) -- (patspec);
\draw[gl] (regionaliz) -- (patspec);
\draw[gl] (embaxisspec) -- (axisspec);
\draw[gl] (embaxisspec) -- (embpatspec);
\draw[gl] (dvpattern) -- (regionaliz);
\draw[gl] (cellpartmorph) -- (ccmorph);
\draw[gl] (stemcelldiff) -- (celldiff);
\draw[gl] (regcelldiff) -- (regdevproc);
\draw[gl] (regcelldev) -- (regcelldiff);
\draw[gl] (regnsdev) -- (regmcodev);
\draw[gl] (negregcelldiff) -- (regcelldiff);
\draw[gl] (negregcelldev) -- (regcelldev);
\draw[gl] (negregnsdev) -- (regnsdev);
\draw[gl] (posregnsdev) -- (regnsdev);
\draw[gl] (regneurogen) -- (regnsdev);
\draw[gl] (negregneurogen) -- (regneurogen);
\draw[gl] (negregneurogen) -- (negregnsdev);
\draw[gl] (cellprojmorph) -- (cellpartmorph);
\draw[gl] (pmbcellprojmorph) -- (cellprojmorph);
\draw[gl] (neuronprojmorph) -- (pmbcellprojmorph);
\draw[gl] (genneurons) -- (neurogenesis);
\draw[gl] (epiboly) -- (morphepisheet);
\draw[gl] (morphepisheet) -- (morphepi);
\draw[gl] (morphpolepi) -- (morphepi);
\draw[gl] (regmempot) -- (regbioqual);
\draw[gl] (regpsmp) -- (regmempot);
\draw[gl] (regntlevels) -- (regbioqual);
\draw[gl] (regcellprojsize) -- (regccsize);
\draw[gl] (regaxondiam) -- (regcellprojsize);
\draw[gl] (axondev) -- (neuronprojdev);
\draw[gl] (wntpcp) -- (noncanonwnt);
\draw[gl] (neurondiff) -- (celldiff);
\draw[gl] (regnsproc) -- (regsysproc);
\draw[gl] (regbp) -- (bioreg);
\draw[gl] (negregbp) -- (regbp);
\draw[gl] (posregbp) -- (regbp);
\draw[gl] (skmsatact) -- (cellactiv);
\draw[gl] (cellactiv) -- (cellproc);
\draw[gl] (reglocomotion) -- (regbp);
\draw[gl] (posreglocomotion) -- (reglocomotion);
\draw[gl] (posreglocomotion) -- (posregbp);
\draw[gl] (regsignaling) -- (regbp);
\draw[gl] (posregsig) -- (regsignaling);
\draw[gl] (negregcellproc) -- (negregbp);
\draw[gl] (negregcellproc) -- (regcellproc);
\draw[gl] (posregcellproc) -- (posregbp);
\draw[gl] (posregcellproc) -- (regcellproc);
\draw[gl] (regcellmotility) -- (reglocomotion);
\draw[gl] (posregcellmotility) -- (regcellmotility);
\draw[gl] (posregcellmotility) -- (posreglocomotion);
\draw[gl] (cellmig) -- (cellmotility);
\draw[gl] (amoeboid) -- (cellmig);
\draw[gl] (regcellmig) -- (regcellmotility);
\draw[gl] (posregcellmig) -- (regcellmig);
\draw[gl] (posregcellmig) -- (posregcellmotility);
\draw[gl] (epicellmig) -- (amoeboid);
\draw[gl] (endocellmig) -- (epicellmig);
\draw[gl] (regepicellmig) -- (regcellmig);
\draw[gl] (regendocellmig) -- (regepicellmig);
\draw[gl] (posregendocellmig) -- (regendocellmig);
\draw[gl] (posregendocellmig) -- (posregepicellmig);
\draw[gl] (posregepicellmig) -- (regepicellmig);
\draw[gl] (posregepicellmig) -- (posregcellmig);
\draw[gl] (regbioqual) -- (bioreg);
\draw[gl] (regasize) -- (regbioqual);
\draw[gl] (regccsize) -- (regasize);
\draw[gl] (ccorgbio) -- (cellproc);
\draw[gl] (ccbiogenesis) -- (ccorgbio);
\draw[gl] (ccorg) -- (ccorgbio);
\draw[gl] (posregccbiogen) -- (regccbiogen);
\draw[gl] (ccassembly) -- (ccorg);
\draw[gl] (celljuncorg) -- (ccorg);
\draw[gl] (celljuncassembly) -- (celljuncorg);
\draw[gl] (celljuncassembly) -- (ccassembly);
\draw[gl] (synorg) -- (celljuncorg);
\draw[gl] (cellprojorg) -- (ccorg);
\draw[gl] (pmbcellprojorg) -- (cellprojorg);
\draw[gl] (neuronprojorg) -- (pmbcellprojorg);
\draw[gl] (dendspineorg) -- (neuronprojorg);
\draw[gl] (posregccorg) -- (regccorg);
\draw[gl] (regcelljuncassembly) -- (regccorg);
\draw[gl] (posregcelljuncassembly) -- (regcelljuncassembly);
\draw[gl] (regcellprojorg) -- (regccorg);
\draw[gl] (regpmbcellprojorg) -- (regcellprojorg);
\draw[gl] (regsynorg) -- (regccorg);
\draw[gl] (regsynassembly) -- (regsynorg);
\draw[gl] (posregsynassembly) -- (regsynassembly);
\draw[gl] (regpostsynorg) -- (regsynorg);
\draw[gl] (regpresynorg) -- (regsynorg);
\draw[gl] (regpresynassembly) -- (regpresynorg);
\draw[gl] (regpresynassembly) -- (regsynassembly);
\draw[gl] (regexcsynassembly) -- (regsynassembly);
\draw[gl] (posregexcsynassembly) -- (regexcsynassembly);
\draw[gl] (posregexcsynassembly) -- (posregsynassembly);
\draw[gl] (excsynassembly) -- (synassembly);
\draw[gl] (cellcellsig) -- (cellcomm);
\draw[gl] (synsignaling) -- (cellcellsig);
\draw[gl] (transsynsig) -- (synsignaling);
\draw[gl] (anterograde) -- (transsynsig);
\draw[gl] (chemsyntrans) -- (anterograde);
\draw[gl] (modchemsyn) -- (regtranssyn);
\draw[gl] (wntsig) -- (csrsp);
\draw[gl] (canonwnt) -- (wntsig);
\draw[gl] (noncanonwnt) -- (wntsig);
\draw[gl] (woundspreadepi) -- (woundspreadcells);
\draw[gl] (epibolywound) -- (epiboly);
\draw[gl] (posregexcpsp) -- (modexcpsp);
\draw[gl] (regcellproc) -- (regbp);
\draw[gl] (celldeath) -- (cellproc);
\draw[gl] (regcelldeath) -- (regcellproc);
\draw[gl] (negregcelldeath) -- (regcelldeath);
\draw[gl] (pcd) -- (celldeath);
\draw[gl] (regpcd) -- (regcelldeath);
\draw[gl] (negregpcd) -- (regpcd);
\draw[gl] (negregpcd) -- (negregcelldeath);
\draw[gl] (apoptotic) -- (pcd);
\draw[gl] (regapoptotic) -- (regpcd);
\draw[gl] (negregapoptotic) -- (regapoptotic);
\draw[gl] (negregapoptotic) -- (negregpcd);
\draw[gl] (cellcomm) -- (cellproc);
\draw[gl] (regcellcomm) -- (regcellproc);
\draw[gl] (posregcellcomm) -- (regcellcomm);
\draw[gl] (celldivision) -- (cellproc);
\draw[gl] (stemcelldiv) -- (celldivision);
\draw[gl] (somstemdiv) -- (stemcelldiv);
\draw[gl] (csrsp) -- (sigtrans);
\draw[gl] (regsigtrans) -- (regcellcomm);
\draw[gl] (regsigtrans) -- (regsignaling);
\draw[gl] (posregsigtrans) -- (regsigtrans);
\draw[gl] (intrasigtrans) -- (sigtrans);
\draw[gl] (regintrasigtrans) -- (regsigtrans);
\draw[gl] (posregintrasig) -- (regintrasigtrans);
\draw[gl] (mapk) -- (intrasigtrans);
\draw[gl] (regmapk) -- (regintrasigtrans);
\draw[gl] (posregmapk) -- (regmapk);
\draw[gl] (sapk) -- (intrasigtrans);
\draw[gl] (samapk) -- (mapk);
\draw[gl] (samapk) -- (sapk);
\draw[gl] (regsamapk) -- (regsapk);
\draw[gl] (regsamapk) -- (regmapk);
\draw[gl] (posregsapk) -- (regsapk);
\draw[gl] (posregsamapk) -- (regsamapk);
\draw[gl] (jnk) -- (samapk);
\draw[gl] (regjnk) -- (regsamapk);
\draw[gl] (posregjnk) -- (regjnk);
\draw[gl] (posregjnk) -- (posregsamapk);
\draw[gl] (regsapk) -- (regintrasigtrans);
\draw[gl] (estmaintpol) -- (cellproc);
\draw[gl] (estcellpol) -- (estmaintpol);
\draw[gl] (cellpopprolif) -- (cellproc);
\draw[gl] (posregcellpopprolif) -- (regcellpopprolif);
\draw[gl] (epicellprolif) -- (cellpopprolif);
\draw[gl] (regepicellprolif) -- (regcellpopprolif);
\draw[gl] (posregepicellprolif) -- (regepicellprolif);
\draw[gl] (posregepicellprolif) -- (posregcellpopprolif);
\draw[gl] (posregepiwound) -- (posregepicellprolif);
\draw[gl] (neuralprecprolif) -- (cellpopprolif);
\draw[gl] (reglocaliz) -- (regbp);
\draw[gl] (cellularlocaliz) -- (localization);
\draw[gl] (macromollocaliz) -- (localization);
\draw[gl] (cellmacromollocaliz) -- (macromollocaliz);
\draw[gl] (cellmacromollocaliz) -- (cellularlocaliz);
\draw[gl] (protlocaliz) -- (macromollocaliz);
\draw[gl] (estlocaliz) -- (localization);
\draw[gl] (transport) -- (estlocaliz);
\draw[gl] (regtransport) -- (reglocaliz);
\draw[gl] (exportcell) -- (transport);
\draw[gl] (secretion) -- (exportcell);
\draw[gl] (secbycell) -- (secretion);
\draw[gl] (regsecretion) -- (regtransport);
\draw[gl] (regsecbycell) -- (regsecretion);
\draw[gl] (vesmedtrans) -- (transport);
\draw[gl] (regvesmedtrans) -- (regtransport);
\draw[gl] (exocytosis) -- (secbycell);
\draw[gl] (exocytosis) -- (vesmedtrans);
\draw[gl] (regexocytosis) -- (regsecbycell);
\draw[gl] (regexocytosis) -- (regvesmedtrans);
\draw[gl] (regulatedexo) -- (exocytosis);
\draw[gl] (regregsecpath) -- (regexocytosis);
\draw[gl] (nttransport) -- (transport);
\draw[gl] (regnttransport) -- (regtransport);
\draw[gl] (estlocalizcell) -- (estlocaliz);
\draw[gl] (vesmedtranssyn) -- (vesmedtrans);
\draw[gl] (synvescycle) -- (vesmedtranssyn);
\draw[gl] (synvescycle) -- (estlocalizcell);
\draw[gl] (synvesexo) -- (regulatedexo);
\draw[gl] (ntsecretion) -- (sigrelsyn);
\draw[gl] (ntsecretion) -- (nttransport);
\draw[gl] (regntsecretion) -- (regnttransport);
\draw[gl] (regsynvesexo) -- (regregsecpath);
\draw[gl] (regsynvesexo) -- (regntsecretion);
\draw[gl] (sigrelsyn) -- (sigrelease);
\draw[gl] (sigrelease) -- (secbycell);
\draw[gl] (regrespstim) -- (regbp);
\draw[gl] (cellresstim) -- (respstim);
\draw[gl] (posregrespstim) -- (regrespstim);
\draw[gl] (respstress) -- (respstim);
\draw[gl] (regrespstress) -- (regrespstim);
\draw[gl] (cellrespstress) -- (respstress);
\draw[gl] (cellrespstress) -- (cellresstim);
\draw[gl] (regcellrespstress) -- (regrespstress);
\draw[gl] (respwounding) -- (respstress);
\draw[gl] (woundhealing) -- (respwounding);
\draw[gl] (sapk) -- (cellrespstress);
\draw[gl] (regmetab) -- (regbp);
\draw[gl] (cellmetab) -- (metabproc);
\draw[gl] (cellmetab) -- (cellproc);
\draw[gl] (regcellmetab) -- (regmetab);
\draw[gl] (regcellmetab) -- (regcellproc);
\draw[gl] (posregmetab) -- (regmetab);
\draw[gl] (posregmetab) -- (posregbp);
\draw[gl] (posregcellmetab) -- (regcellmetab);
\draw[gl] (posregcellmetab) -- (posregmetab);
\draw[gl] (ncmetab) -- (metabproc);
\draw[gl] (regncmetab) -- (regmetab);
\draw[gl] (primmetab) -- (metabproc);
\draw[gl] (regprimmetab) -- (regmetab);
\draw[gl] (hetcycmetab) -- (cellmetab);
\draw[gl] (hetcycmetab) -- (orgcyclic);
\draw[gl] (cellaromatic) -- (cellmetab);
\draw[gl] (cellncmetab) -- (ncmetab);
\draw[gl] (cellncmetab) -- (cellmetab);
\draw[gl] (cellbiosynth) -- (biosynth);
\draw[gl] (cellbiosynth) -- (cellmetab);
\draw[gl] (regbiosynth) -- (regmetab);
\draw[gl] (biosynth) -- (metabproc);
\draw[gl] (resporgsub) -- (respchem);
\draw[gl] (respchem) -- (respstim);
\draw[gl] (respendo) -- (respstim);
\draw[gl] (organonitrogen) -- (ncmetab);
\draw[gl] (organonitrogen) -- (orgsubmetab);
\draw[gl] (orgcyclic) -- (orgsubmetab);
\draw[gl] (orgsubmetab) -- (metabproc);
\draw[gl] (macromolmetab) -- (orgsubmetab);
\draw[gl] (macromolmetab) -- (primmetab);
\draw[gl] (orgsubbiosynth) -- (orgsubmetab);
\draw[gl] (orgsubbiosynth) -- (biosynth);
\draw[gl] (nbcmetab) -- (hetcycmetab);
\draw[gl] (nbcmetab) -- (cellaromatic);
\draw[gl] (nbcmetab) -- (cellncmetab);
\draw[gl] (nbcmetab) -- (orgcyclic);
\draw[gl] (regnbcmetab) -- (regprimmetab);
\draw[gl] (regnbcmetab) -- (regcellmetab);
\draw[gl] (hetcycbiosynth) -- (hetcycmetab);
\draw[gl] (hetcycbiosynth) -- (cellbiosynth);
\draw[gl] (aromaticbiosynth) -- (cellaromatic);
\draw[gl] (aromaticbiosynth) -- (cellbiosynth);
\draw[gl] (cellncbiosynth) -- (cellncmetab);
\draw[gl] (cellncbiosynth) -- (cellbiosynth);
\draw[gl] (regcellbiosynth) -- (regbiosynth);
\draw[gl] (regcellbiosynth) -- (regcellmetab);
\draw[gl] (posregbiosynth) -- (regbiosynth);
\draw[gl] (regmacromolmetab) -- (regmetab);
\draw[gl] (resphormone) -- (resporgsub);
\draw[gl] (resphormone) -- (respendo);
\draw[gl] (protmetab) -- (macromolmetab);
\draw[gl] (protmetab) -- (organonitrogen);
\draw[gl] (orgcycbiosynth) -- (orgcyclic);
\draw[gl] (orgcycbiosynth) -- (orgsubbiosynth);
\draw[gl] (macromolbiosynth) -- (macromolmetab);
\draw[gl] (macromolbiosynth) -- (orgsubbiosynth);
\draw[gl] (geneexpr) -- (macromolmetab);
\draw[gl] (posregncmetab) -- (regncmetab);
\draw[gl] (posregncmetab) -- (posregmetab);
\draw[gl] (posregcellbiosynth) -- (regcellbiosynth);
\draw[gl] (posregcellbiosynth) -- (posregbiosynth);
\draw[gl] (regprotmetab) -- (regmacromolmetab);
\draw[gl] (nbcbiosynth) -- (nbcmetab);
\draw[gl] (nbcbiosynth) -- (cellncbiosynth);
\draw[gl] (nbcbiosynth) -- (hetcycbiosynth);
\draw[gl] (nbcbiosynth) -- (aromaticbiosynth);
\draw[gl] (nbcbiosynth) -- (orgcycbiosynth);
\draw[gl] (posregmacromolmetab) -- (regmacromolmetab);
\draw[gl] (nucacidmetab) -- (nbcmetab);
\draw[gl] (nucacidmetab) -- (macromolmetab);
\draw[gl] (respestrogen) -- (resphormone);
\draw[gl] (regmacromolbiosynth) -- (regmacromolmetab);
\draw[gl] (regmacromolbiosynth) -- (regbiosynth);
\draw[gl] (reggeneexpr) -- (regmacromolmetab);
\draw[gl] (posregnbcmetab) -- (regnbcmetab);
\draw[gl] (posregnbcmetab) -- (posregncmetab);
\draw[gl] (posregprotmetab) -- (regprotmetab);
\draw[gl] (posregprotmetab) -- (posregmacromolmetab);
\draw[gl] (rnametab) -- (nucacidmetab);
\draw[gl] (posregmacromolbiosynth) -- (regmacromolbiosynth);
\draw[gl] (posreggeneexpr) -- (reggeneexpr);
\draw[gl] (regrnametab) -- (regnbcmetab);
\draw[gl] (rnabiosynth) -- (rnametab);
\draw[gl] (rnabiosynth) -- (nbcbiosynth);
\draw[gl] (posregrnametab) -- (regrnametab);
\draw[gl] (regrnabiosynth) -- (regrnametab);
\draw[gl] (regrnabiosynth) -- (regmacromolbiosynth);
\draw[gl] (nucacidtrans) -- (rnabiosynth);
\draw[gl] (posregrnabiosynth) -- (regrnabiosynth);
\draw[gl] (posregrnabiosynth) -- (posregrnametab);
\draw[gl] (regnucacidtrans) -- (regrnabiosynth);
\draw[gl] (dnatrans) -- (nucacidtrans);
\draw[gl] (posregnucacidtrans) -- (regnucacidtrans);
\draw[gl] (posregnucacidtrans) -- (posregrnabiosynth);
\draw[gl] (regdnatrans) -- (regnucacidtrans);
\draw[gl] (transpol2) -- (dnatrans);
\draw[gl] (posregdnatrans) -- (regdnatrans);
\draw[gl] (posregdnatrans) -- (posregnucacidtrans);
\draw[gl] (regtranspol2) -- (regdnatrans);
\draw[gl] (posregtranspol2) -- (regtranspol2);
\draw[gl] (posregtranspol2) -- (posregdnatrans);

\draw[kl] (regestplanar) -- (estplanarpol);
\draw[kl] (regasmorph) -- (asmorph);
\draw[kl] (regaomorph) -- (aomorph);
\draw[kl] (regdevproc) -- (devproc);
\draw[kl] (regmcodev) -- (mcodev);
\draw[kl] (regcelldiff) -- (celldiff);
\draw[kl] (regcelldev) -- (celldev);
\draw[kl] (regnsdev) -- (nsdev);
\draw[kl] (regneurogen) -- (neurogenesis);
\draw[kl] (regsysproc) -- (sysproc);
\draw[kl] (regmcop) -- (mcop);
\draw[kl] (regnsproc) -- (nsproc);
\draw[kl] (regaxonogen) -- (axonogenesis);
\draw[kl] (regneuronprojdev) -- (neuronprojdev);
\draw[kl] (regbp) -- (bpWnt);
\draw[kl] (reglocomotion) -- (locomotion);
\draw[kl] (regsignaling) -- (signaling);
\draw[kl] (regcellmotility) -- (cellmotility);
\draw[kl] (regcellmig) -- (cellmig);
\draw[kl] (regccbiogen) -- (ccbiogenesis);
\draw[kl] (regccorg) -- (ccorg);
\draw[kl] (regcelljuncassembly) -- (celljuncassembly);
\draw[kl] (regcellprojorg) -- (cellprojorg);
\draw[kl] (regsynorg) -- (synorg);
\draw[kl] (regsynassembly) -- (synassembly);
\draw[kl] (regpmbcellprojorg) -- (pmbcellprojorg);
\draw[kl] (regpresynorg) -- (presynorg);
\draw[kl] (regpostsynorg) -- (postsynorg);
\draw[kl] (regexcsynassembly) -- (excsynassembly);
\draw[kl] (regpresynassembly) -- (presynassembly);
\draw[kl] (regepicellmig) -- (epicellmig);
\draw[kl] (regendocellmig) -- (endocellmig);
\draw[kl] (regtranssyn) -- (transsynsig);
\draw[kl] (modchemsyn) -- (chemsyntrans);
\draw[kl] (modexcpsp) -- (excpsp);
\draw[kl] (regcellproc) -- (cellproc);
\draw[kl] (regcelldeath) -- (celldeath);
\draw[kl] (regpcd) -- (pcd);
\draw[kl] (regapoptotic) -- (apoptotic);
\draw[kl] (regcellcomm) -- (cellcomm);
\draw[kl] (regsigtrans) -- (sigtrans);
\draw[kl] (regintrasigtrans) -- (intrasigtrans);
\draw[kl] (regmapk) -- (mapk);
\draw[kl] (regsapk) -- (sapk);
\draw[kl] (regsamapk) -- (samapk);
\draw[kl] (regjnk) -- (jnk);
\draw[kl] (regcellpopprolif) -- (cellpopprolif);
\draw[kl] (regepicellprolif) -- (epicellprolif);
\draw[kl] (reglocaliz) -- (localization);
\draw[kl] (regrespstim) -- (respstim);
\draw[kl] (regtransport) -- (transport);
\draw[kl] (regsecretion) -- (secretion);
\draw[kl] (regsecbycell) -- (secbycell);
\draw[kl] (regvesmedtrans) -- (vesmedtrans);
\draw[kl] (regexocytosis) -- (exocytosis);
\draw[kl] (regregsecpath) -- (regulatedexo);
\draw[kl] (regnttransport) -- (nttransport);
\draw[kl] (regntsecretion) -- (ntsecretion);
\draw[kl] (regsynvesexo) -- (synvesexo);
\draw[kl] (regrespstress) -- (respstress);
\draw[kl] (regcellrespstress) -- (cellrespstress);
\draw[kl] (regmetab) -- (metabproc);
\draw[kl] (regcellmetab) -- (cellmetab);
\draw[kl] (regncmetab) -- (ncmetab);
\draw[kl] (regprimmetab) -- (primmetab);
\draw[kl] (regnbcmetab) -- (nbcmetab);
\draw[kl] (regcellbiosynth) -- (cellbiosynth);
\draw[kl] (regbiosynth) -- (biosynth);
\draw[kl] (regmacromolmetab) -- (macromolmetab);
\draw[kl] (regprotmetab) -- (protmetab);
\draw[kl] (regmacromolbiosynth) -- (macromolbiosynth);
\draw[kl] (reggeneexpr) -- (geneexpr);
\draw[kl] (regrnametab) -- (rnametab);
\draw[kl] (regrnabiosynth) -- (rnabiosynth);
\draw[kl] (regnucacidtrans) -- (nucacidtrans);
\draw[kl] (regdnatrans) -- (dnatrans);
\draw[kl] (regtranspol2) -- (transpol2);

\draw[rl] (negregdevproc) -- (devproc);
\draw[rl] (negregmcop) -- (mcop);
\draw[rl] (negregcelldiff) -- (celldiff);
\draw[rl] (negregcelldev) -- (celldev);
\draw[rl] (negregnsdev) -- (nsdev);
\draw[rl] (negregneurogen) -- (neurogenesis);
\draw[rl] (negregbp) -- (bpWnt);
\draw[rl] (negregcellproc) -- (cellproc);
\draw[rl] (negregcelldeath) -- (celldeath);
\draw[rl] (negregpcd) -- (pcd);
\draw[rl] (negregapoptotic) -- (apoptotic);

\draw[gr] (posregdevproc) -- (devproc);
\draw[gr] (posregmcop) -- (mcop);
\draw[gr] (posregnsdev) -- (nsdev);
\draw[gr] (posregbp) -- (bpWnt);
\draw[gr] (posreglocomotion) -- (locomotion);
\draw[gr] (posregsig) -- (signaling);
\draw[gr] (posregcellproc) -- (cellproc);
\draw[gr] (posregcellmotility) -- (cellmotility);
\draw[gr] (posregcellmig) -- (cellmig);
\draw[gr] (posregccbiogen) -- (ccbiogenesis);
\draw[gr] (posregccorg) -- (ccorg);
\draw[gr] (posregcelljuncassembly) -- (celljuncassembly);
\draw[gr] (posregsynassembly) -- (synassembly);
\draw[gr] (posregexcsynassembly) -- (excsynassembly);
\draw[gr] (posregexcpsp) -- (excpsp);
\draw[gr] (posregepicellmig) -- (epicellmig);
\draw[gr] (posregendocellmig) -- (endocellmig);
\draw[gr] (posregcellcomm) -- (cellcomm);
\draw[gr] (posregsigtrans) -- (sigtrans);
\draw[gr] (posregintrasig) -- (intrasigtrans);
\draw[gr] (posregmapk) -- (mapk);
\draw[gr] (posregsapk) -- (sapk);
\draw[gr] (posregsamapk) -- (samapk);
\draw[gr] (posregjnk) -- (jnk);
\draw[gr] (posregcellpopprolif) -- (cellpopprolif);
\draw[gr] (posregepicellprolif) -- (epicellprolif);
\draw[gr] (posregrespstim) -- (respstim);
\draw[gr] (posregmetab) -- (metabproc);
\draw[gr] (posregcellmetab) -- (cellmetab);
\draw[gr] (posregncmetab) -- (ncmetab);
\draw[gr] (posregnbcmetab) -- (nbcmetab);
\draw[gr] (posregcellbiosynth) -- (cellbiosynth);
\draw[gr] (posregbiosynth) -- (biosynth);
\draw[gr] (posregprotmetab) -- (protmetab);
\draw[gr] (posregmacromolmetab) -- (macromolmetab);
\draw[gr] (posregmacromolbiosynth) -- (macromolbiosynth);
\draw[gr] (posreggeneexpr) -- (geneexpr);
\draw[gr] (posregrnametab) -- (rnametab);
\draw[gr] (posregrnabiosynth) -- (rnabiosynth);
\draw[gr] (posregnucacidtrans) -- (nucacidtrans);
\draw[gr] (posregdnatrans) -- (dnatrans);
\draw[gr] (posregtranspol2) -- (transpol2);

\draw[bl] (orglumen) -- (organelle);
\draw[bl] (intorg) -- (iasstruct);
\draw[bl] (cytoplasm) -- (iasstruct);
\draw[bl] (extenc) -- (cellper);
\draw[bl] (extspace) -- (extreg);
\draw[bl] (intorglumen) -- (intorg);
\draw[bl] (er) -- (cytoplasm);
\draw[bl] (er) -- (endomem);
\draw[bl] (erlumen) -- (er);
\draw[bl] (satellite) -- (skmtissregen);
\draw[bl] (hindmorph) -- (hindbraindev);
\draw[bl] (metenceph) -- (hindbraindev);
\draw[bl] (cerebdev) -- (metenceph);
\draw[bl] (cerebmorph) -- (hindmorph);
\draw[bl] (cerebmorph) -- (cerebdev);
\draw[bl] (cerebcortdev) -- (cerebdev);
\draw[bl] (cerebcortmorph) -- (cerebmorph);
\draw[bl] (cerebcortmorph) -- (cerebcortdev);
\draw[bl] (cgldev) -- (cerebcortdev);
\draw[bl] (cerebcortform) -- (cerebcortmorph);
\draw[bl] (cglmorph) -- (cerebcortmorph);
\draw[bl] (cglmorph) -- (cgldev);
\draw[bl] (cglform) -- (cerebcortform);
\draw[bl] (cglform) -- (cglmorph);
\draw[bl] (reproc.north east) .. controls +(300,-60) and +(-300,0) .. (reproduction.west);
\draw[bl] (devgrowth.north east) .. controls +(400,-40) and +(-500,0) .. (devproc.west);
\draw[bl] (asfmorph) -- (asmorph);
\draw[bl] (angiogenesis) -- (bvmorph);
\draw[bl] (hindbraindev) -- (braindev);
\draw[bl] (celldiffhind) -- (hindbraindev);
\draw[bl] (cgcelldiff) -- (cglform);
\draw[bl] (asmorph) -- (asdev);
\draw[bl] (aomorph) -- (aodev);
\draw[bl] (braindev) -- (headdev);
\draw[bl] (tubemorph) -- (tubedev);
\draw[bl] (skinmorph) -- (skindev);
\draw[bl] (reprstructdev) -- (reprsysdev);
\draw[bl] (appmorph) -- (appdev);
\draw[bl] (limbmorph) -- (limbdev);
\draw[bl] (tissmorph) -- (tissdev);
\draw[bl] (vascdev) -- (circsysdev);
\draw[bl] (skelsysmorph) -- (skelsysdev);
\draw[bl] (cartdev) -- (skelsysdev);
\draw[bl] (cartdev) -- (conntissdev);
\draw[bl] (cartcond) -- (cartdev);
\draw[bl] (cartcond) -- (skelsysmorph);
\draw[bl] (chondrodiff) -- (cartdev);
\draw[bl] (uterusmorph) -- (uterusdev);
\draw[bl] (bvmorph) -- (bvdev);
\draw[bl] (bvdev.south east) .. controls +(150,40) and +(-250,20) .. (vascdev.west);
\draw[bl] (embdigitmorph) -- (emblimbmorph);
\draw[bl] (vasculogenesis) -- (bvmorph);
\draw[bl] (tubedev) -- (mcodev);
\draw[bl] (appdev) -- (mcodev);
\draw[bl] (sysdev) -- (mcodev);
\draw[bl] (embmorph) -- (embryodev);
\draw[bl] (braindev) -- (cnsdev);
\draw[bl] (forebraindev) -- (braindev);
\draw[bl] (cellmorphdiff) -- (celldev);
\draw[bl] (estplanarpol) -- (morphpolepi);
\draw[bl] (cellprojmorph.west) .. controls +(-1200,-25) and +(0,100) .. (cellmorph.south);
\draw[bl] (embryodev) -- (mcodev);
\draw[bl] (patspec) -- (mcodev);
\draw[bl] (embpatspec) -- (patspec);
\draw[bl] (morphepi) -- (epidev);
\draw[bl] (cnsdev) -- (nsdev);
\draw[bl] (neurogenesis) -- (nsdev);
\draw[bl] (cnsneurondiff.north) .. controls +(0,-80) and +(30,50) .. (cnsdev.south east);
\draw[bl] (estbbb) -- (cnsdev);
\draw[bl] (neurondiff) -- (genneurons);
\draw[bl] (neurondev) -- (neurondiff);
\draw[bl] (neuronprojdev) -- (neurondev);
\draw[bl] (cellmorphneurondiff.north) .. controls +(30,-100) and +(-150,0) .. (neurondev.west);
\draw[bl] (neuronprojmorph) -- (neuronprojdev);
\draw[bl] (dendspinedev) -- (dendritedev);
\draw[bl] (dendmorph) -- (dendritedev);
\draw[bl] (dendmorph) -- (cellmorphneurondiff);
\draw[bl] (axonogenesis) -- (cellmorphneurondiff);
\draw[bl] (axonogenesis) -- (axondev);
\draw[bl] (dendspinemorph) -- (dendmorph);
\draw[bl] (dendspinemorph) -- (dendspinedev);
\draw[bl] (cellfatecommit) -- (celldiff);
\draw[bl] (celldev) -- (celldiff);
\draw[bl] (cellfatedet) -- (cellfatecommit);
\draw[bl] (stemcelldev) -- (stemcelldiff);
\draw[bl] (cellprolifforebrain) -- (forebraindev);
\draw[bl] (epicellmig) -- (epimig);
\draw[bl] (asymprot.west) .. controls +(-1200,-25) and +(0,45) .. (cellfatedet.south);
\draw[bl] (ccassembly) -- (ccbiogenesis);
\draw[bl] (synassembly) -- (synorg);
\draw[bl] (presynorg) -- (synorg);
\draw[bl] (presynassembly) -- (synassembly);
\draw[bl] (postsynorg) -- (synorg);
\draw[bl] (wntsig) -- (ccsigwnt);
\draw[bl] (chemsyntranspost) -- (chemsyntrans);
\draw[bl] (excpsp) -- (chemsyntranspost);
\draw[bl] (woundspreadcells) -- (epibolywound);
\draw[bl] (epibolywound) -- (woundhealing);
\draw[bl] (synassembly.west) .. controls +(-300,-30) and +(0,50) .. (regsynstruct.south);
\draw[bl] (csrspcc) -- (cellcellsig);
\draw[bl] (sigrelsyn.west) .. controls +(-300,-20) and +(0,150) .. (cellcellsig.south);
\draw[bl] (sigrelease.west) .. controls +(-300,0) and +(200,20) .. (synsignaling.east);
\draw[bl] (ntsecretion) -- (chemsyntrans);
\draw[bl] (sigtrans) -- (cellcomm);
\draw[bl] (sigtrans) -- (signaling);
\draw[bl] (sigtrans) -- (cellresstim);
\draw[bl] (posregepiwound) -- (woundhealing);
\draw[bl] (estlocalizcell.west) .. controls +(-250,-30) and +(0,150) .. (cellularlocaliz.south);
\draw[bl] (synvesexo) -- (ntsecretion);
\draw[bl] (synvesexo) -- (synvescycle);
\draw[bl] (nucacidtrans) -- (geneexpr);
\end{scope}
\end{tikzpicture}
\end{document}
